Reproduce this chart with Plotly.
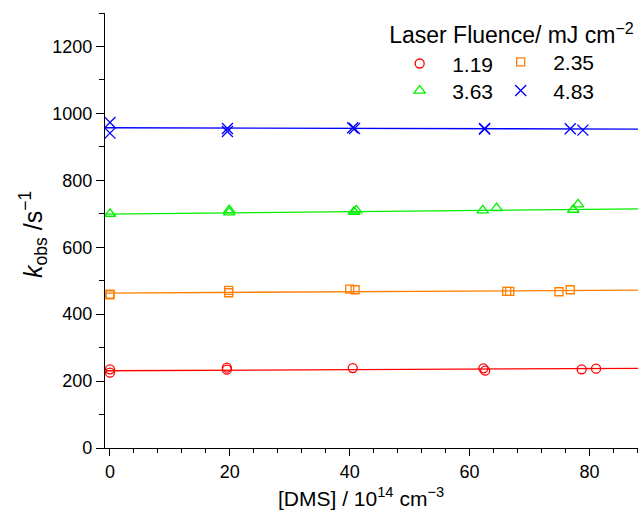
import plotly.graph_objects as go

# ---- data ----
labels = ["1.19", "2.35", "3.63", "4.83"]
colors = ["#FF0000", "#FF7F00", "#00F000", "#0000FF"]
symbols = ["circle-open", "square-open", "triangle-up-open", "x-thin-open"]

x_119 = [0, 0, 19.5, 19.5, 40.5, 62.3, 62.6, 78.7, 81.1]
y_119 = [235, 225, 240, 234, 239, 238, 231, 235, 237]

x_235 = [0, 0, 19.8, 19.8, 40.0, 40.9, 66.2, 66.7, 74.9, 76.8]
y_235 = [460, 458, 471, 464, 475, 473, 468, 468, 467, 473]

x_363 = [0, 19.9, 19.9, 40.7, 41.1, 62.2, 64.5, 77.3, 78.1]
y_363 = [700, 711, 704, 706, 710, 710, 717, 712, 728]

x_483 = [0, 0, 19.6, 19.6, 40.5, 40.8, 62.5, 62.5, 76.8, 78.9]
y_483 = [973, 941, 955, 946, 957, 955, 955, 953, 954, 950]

fit_intercept = [231, 463, 699, 957]
fit_slope = [0.08, 0.10, 0.18, -0.045]
fit_x = [-2, 95]

xs = [x_119, x_235, x_363, x_483]
ys = [y_119, y_235, y_363, y_483]

fig = go.Figure()
for i in range(4):
    fy = [fit_intercept[i] + fit_slope[i] * v for v in fit_x]
    fig.add_trace(go.Scatter(x=fit_x, y=fy, mode="lines",
                             line=dict(color=colors[i], width=1.3),
                             showlegend=False, hoverinfo="skip"))

msize = [9, 8, 10, 11]
legend_ids = ["legend", "legend2", "legend3", "legend4"]
for i in range(4):
    fig.add_trace(go.Scatter(
        x=xs[i], y=ys[i], mode="markers", name=labels[i],
        marker=dict(symbol=symbols[i], size=msize[i], color=colors[i],
                    line=dict(color=colors[i], width=1.3)),
        legend=legend_ids[i]))

font = "Liberation Sans, Arial, sans-serif"
col1_x = 0.5294
col2_x = 0.5294 + 101 / 533
row1_y = 0.934
row2_y = 0.868
common = dict(orientation="h", xanchor="left", yanchor="top",
              font=dict(size=21), bgcolor="rgba(0,0,0,0)",
              entrywidth=60, entrywidthmode="pixels", itemwidth=55)

fig.update_layout(
    width=638, height=517,
    margin=dict(l=105, r=0, t=13, b=69),
    plot_bgcolor="white", paper_bgcolor="white",
    font=dict(family=font, size=18, color="black"),
    showlegend=True,
    legend=dict(
        title=dict(text="Laser Fluence/ mJ cm<sup>\u22122</sup>", side="top",
                   font=dict(size=23)),
        x=col1_x, y=0.999, **common),
    legend2=dict(x=col2_x, y=row1_y, **common),
    legend3=dict(x=col1_x, y=row2_y, **common),
    legend4=dict(x=col2_x, y=row2_y, **common),
    annotations=[
        dict(text="[DMS] / 10<sup>14</sup> cm<sup>\u22123</sup>", xref="paper", yref="paper",
             x=0.48, y=-0.113, xanchor="center", yanchor="middle", showarrow=False,
             font=dict(size=21)),
        dict(text="<i>k</i><sub>obs</sub> /s<sup>\u22121</sup>", xref="paper", yref="paper",
             x=-0.135, y=0.49, xanchor="center", yanchor="middle", showarrow=False,
             textangle=-90, font=dict(size=25)),
    ],
)
fig.update_xaxes(
    range=[-0.83, 88.1], showline=True, linecolor="black", linewidth=1.3,
    ticks="outside", ticklen=7, tickwidth=1.3, tickcolor="black",
    tick0=0, dtick=20, showgrid=False, zeroline=False,
    minor=dict(ticks="outside", ticklen=4, tickwidth=1.3, tickcolor="black", dtick=4, tick0=0),
    tickfont=dict(size=18))
fig.update_yaxes(
    range=[0, 1300], showline=True, linecolor="black", linewidth=1.3,
    ticks="outside", ticklen=8, tickwidth=1.3, tickcolor="black",
    tick0=0, dtick=200, showgrid=False, zeroline=False,
    minor=dict(ticks="outside", ticklen=5, tickwidth=1.3, tickcolor="black", dtick=100, tick0=0),
    tickfont=dict(size=18))

fig.write_html("out.html")
